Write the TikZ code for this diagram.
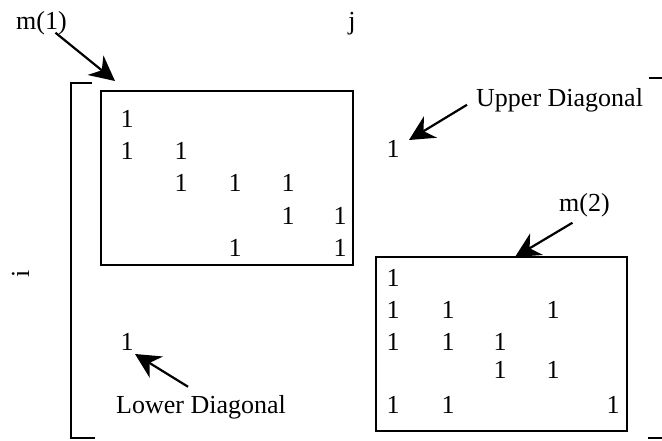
\documentclass[tikz,border=0pt]{standalone}
\usepackage{fontspec}
\setmainfont{Liberation Serif}
\usetikzlibrary{arrows.meta}

\begin{document}
\begin{tikzpicture}[x=1pt,y=-1pt,>={Stealth[length=25pt,width=25pt,inset=8pt]},
		every node/.style={font=\fontsize{26}{30}\selectfont,inner sep=0pt},
		entry/.style={anchor=base},
		lbl/.style={anchor=base west},
		pointer/.style={->,line width=2.2pt},
		frame/.style={line width=2pt}]
		\useasboundingbox (0,0) rectangle (662,441);
		% the two blocks
		\draw[frame] (101,91) rectangle (353,265);
		\draw[frame] (376,257) rectangle (627,431);
		% brackets of the whole matrix
		\draw[frame] (92,83) -- (71,83) -- (71,438) -- (95,438);
		\draw[frame] (649,78) -- (662,78);
		\draw[frame] (648,438) -- (662,438);
		% entries of m(1)
		\foreach \x/\y [count=\k] in {127/128,127/160,181/160,181/192,235/192,288/192,288/225,340/225,235/257,340/257}
			\node[entry] (a\k) at (\x,\y) {1};
		% entries of m(2)
		\foreach \x/\y [count=\k] in {393/287,393/318,448/318,553/318,393/350,448/350,500/350,500/378,553/378,393/413,448/413,613/413}
			\node[entry] (b\k) at (\x,\y) {1};
		\node[entry] (up) at (393,158) {1};
		\node[entry] (low) at (127,350) {1};
		% labels
		\node[lbl] (m1) at (16,30) {m(1)};
		\node[lbl] (m2) at (559,212) {m(2)};
		\node[lbl] (ud) at (476,107) {Upper Diagonal};
		\node[lbl] (ld) at (116,413) {Lower Diagonal};
		\node[entry] (j) at (352,30) {j};
		\node[entry,rotate=90] (i) at (29,274) {i};
		% pointers
		\coordinate (m1tip) at (115,81);
		\coordinate (uptip) at (409,140);
		\coordinate (m2tip) at (515,257);
		\coordinate (lowtip) at (135,354);
		\draw[pointer] (m1.south) ++(14,-3) -- (m1tip);
		\draw[pointer] (ud.west) ++(-9,4) -- (uptip);
		\draw[pointer] (m2.south) ++(-12,5) -- (m2tip);
		\draw[pointer] (ld.north) ++(-13,-8) -- (lowtip);
	\end{tikzpicture}
\end{document}
